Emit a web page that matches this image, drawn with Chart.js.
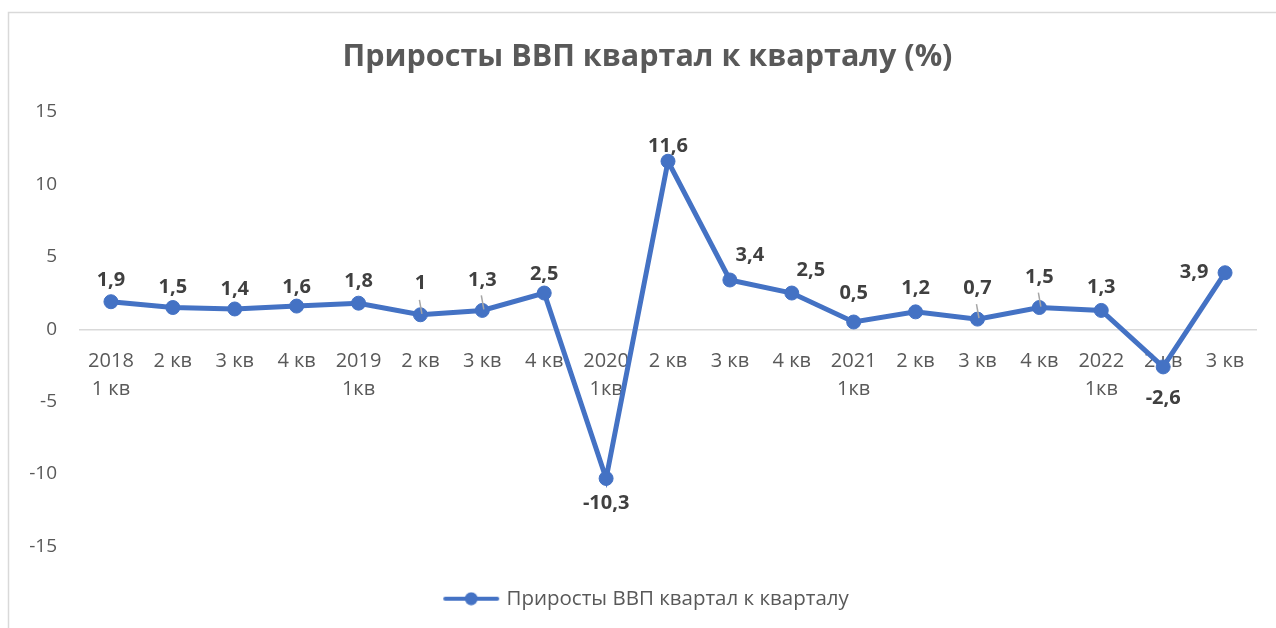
<!DOCTYPE html>
<html>
<head>
<meta charset="utf-8">
<script src="https://cdn.jsdelivr.net/npm/chart.js@4"></script>
<style>
  html, body { margin: 0; padding: 0; background: #ffffff; }
  #c { display: block; }
</style>
</head>
<body>
<canvas id="c" width="1276" height="628"></canvas>
<script>
// ---- data ----
const categories = [
  ['2018', '1 кв'], '2 кв', '3 кв', '4 кв',
  ['2019', '1кв'], '2 кв', '3 кв', '4 кв',
  ['2020', '1кв'], '2 кв', '3 кв', '4 кв',
  ['2021', '1кв'], '2 кв', '3 кв', '4 кв',
  ['2022', '1кв'], '2 кв', '3 кв'
];
const seriesName = 'Приросты ВВП квартал к кварталу';
const gdpGrowth = [1.9, 1.5, 1.4, 1.6, 1.8, 1, 1.3, 2.5, -10.3, 11.6, 3.4, 2.5, 0.5, 1.2, 0.7, 1.5, 1.3, -2.6, 3.9];
const yTicks = [-15, -10, -5, 0, 5, 10, 15];

// ---- label styling (pixel nudges of value labels, not data) ----
const labelNudge = [
  [0,-21],[0,-20],[0,-20],[0,-19],[0,-22],[0,-31],[0,-30],[0,-19],[0,25],[0,-15],
  [20,-25],[19,-23],[0,-29],[0,-24],[0,-31],[0,-30],[0,-23],[0,31],[-31,0]
];
const leaderLine = [5, 6, 14, 15];

const BLUE = '#4472C4';
const GREY = '#595959';
const FONT = "'Open Sans', 'Noto Sans', sans-serif";

// legend marker image: line with a dot
const legendImg = document.createElement('canvas');
legendImg.width = 58; legendImg.height = 14;
(function(){
  const g = legendImg.getContext('2d');
  g.strokeStyle = BLUE; g.lineWidth = 4; g.lineCap = 'round';
  g.beginPath(); g.moveTo(3, 7); g.lineTo(55, 7); g.stroke();
  g.fillStyle = BLUE; g.beginPath(); g.arc(29, 7, 6.5, 0, Math.PI * 2); g.fill();
})();

const borderPlugin = {
  id: 'frame',
  beforeDraw(chart) {
    const ctx = chart.ctx;
    ctx.save();
    ctx.strokeStyle = '#d9d9d9';
    ctx.lineWidth = 1.5;
    ctx.beginPath();
    ctx.moveTo(8.5, 628); ctx.lineTo(8.5, 12.5); ctx.lineTo(1276, 12.5);
    ctx.stroke();
    ctx.restore();
  }
};

const labelPlugin = {
  id: 'valueLabels',
  afterDatasetsDraw(chart) {
    const ctx = chart.ctx;
    const meta = chart.getDatasetMeta(0);
    ctx.save();
    meta.data.forEach((pt, i) => {
      if (leaderLine.includes(i)) {
        ctx.strokeStyle = '#a6a6a6'; ctx.lineWidth = 1.5;
        ctx.beginPath(); ctx.moveTo(pt.x + 1.5, pt.y - 1); ctx.lineTo(pt.x - 1, pt.y - 15); ctx.stroke();
      }
    });
    ctx.font = "bold 20px " + FONT;
    ctx.fillStyle = '#404040';
    ctx.textAlign = 'center';
    ctx.textBaseline = 'middle';
    meta.data.forEach((pt, i) => {
      const txt = String(gdpGrowth[i]).replace('.', ',');
      const n = labelNudge[i];
      ctx.fillText(txt, pt.x + n[0], pt.y + n[1]);
    });
    ctx.restore();
  }
};

new Chart(document.getElementById('c'), {
  type: 'line',
  data: {
    labels: categories,
    datasets: [{
      label: seriesName,
      data: gdpGrowth,
      yAxisID: 'y',
      borderColor: BLUE,
      backgroundColor: BLUE,
      borderWidth: 5,
      pointRadius: 7,
      pointHoverRadius: 7,
      pointBackgroundColor: BLUE,
      pointBorderColor: BLUE,
      pointBorderWidth: 1,
      tension: 0,
      fill: false
    }]
  },
  options: {
    responsive: false,
    animation: false,
    events: [],
    layout: { padding: { left: 19, right: 0, top: 0, bottom: 9 } },
    scales: {
      x: {
        position: { y: 0 },
        offset: true,
        grid: { display: false, drawTicks: false },
        border: { display: true, color: '#d9d9d9', width: 1.5 },
        ticks: {
          autoSkip: false, maxRotation: 0, minRotation: 0,
          padding: 18,
          color: GREY,
          font: { family: FONT, size: 20, lineHeight: 1.4 }
        }
      },
      y: {
        position: 'left',
        min: -15, max: 15,
        afterBuildTicks(scale) { scale.ticks = yTicks.map(v => ({ value: v })); },
        afterFit(scale) { scale.width = 61; },
        grid: { display: false, drawTicks: false },
        border: { display: false },
        ticks: {
          stepSize: 5,
          padding: 23,
          color: GREY,
          font: { family: FONT, size: 19 }
        }
      },
      yRightSpace: {
        position: 'right',
        min: -15, max: 15,
        afterFit(scale) { scale.width = 20; },
        grid: { display: false, drawTicks: false },
        border: { display: false },
        ticks: { display: false }
      }
    },
    plugins: {
      title: {
        display: true,
        text: 'Приросты ВВП квартал к кварталу (%)',
        color: GREY,
        font: { family: FONT, size: 30.5, weight: 'bold', lineHeight: 1.2 },
        padding: { top: 38.7, bottom: 36.7 }
      },
      legend: {
        display: true,
        position: 'bottom',
        labels: {
          usePointStyle: true,
          pointStyleWidth: 50,
          padding: 42,
          color: GREY,
          font: { family: FONT, size: 20.5 },
          generateLabels() {
            return [{ text: seriesName, pointStyle: legendImg, fontColor: GREY, datasetIndex: 0, hidden: false, lineWidth: 0, strokeStyle: BLUE, fillStyle: BLUE }];
          }
        }
      },
      tooltip: { enabled: false }
    }
  },
  plugins: [borderPlugin, labelPlugin]
});
</script>
</body>
</html>
